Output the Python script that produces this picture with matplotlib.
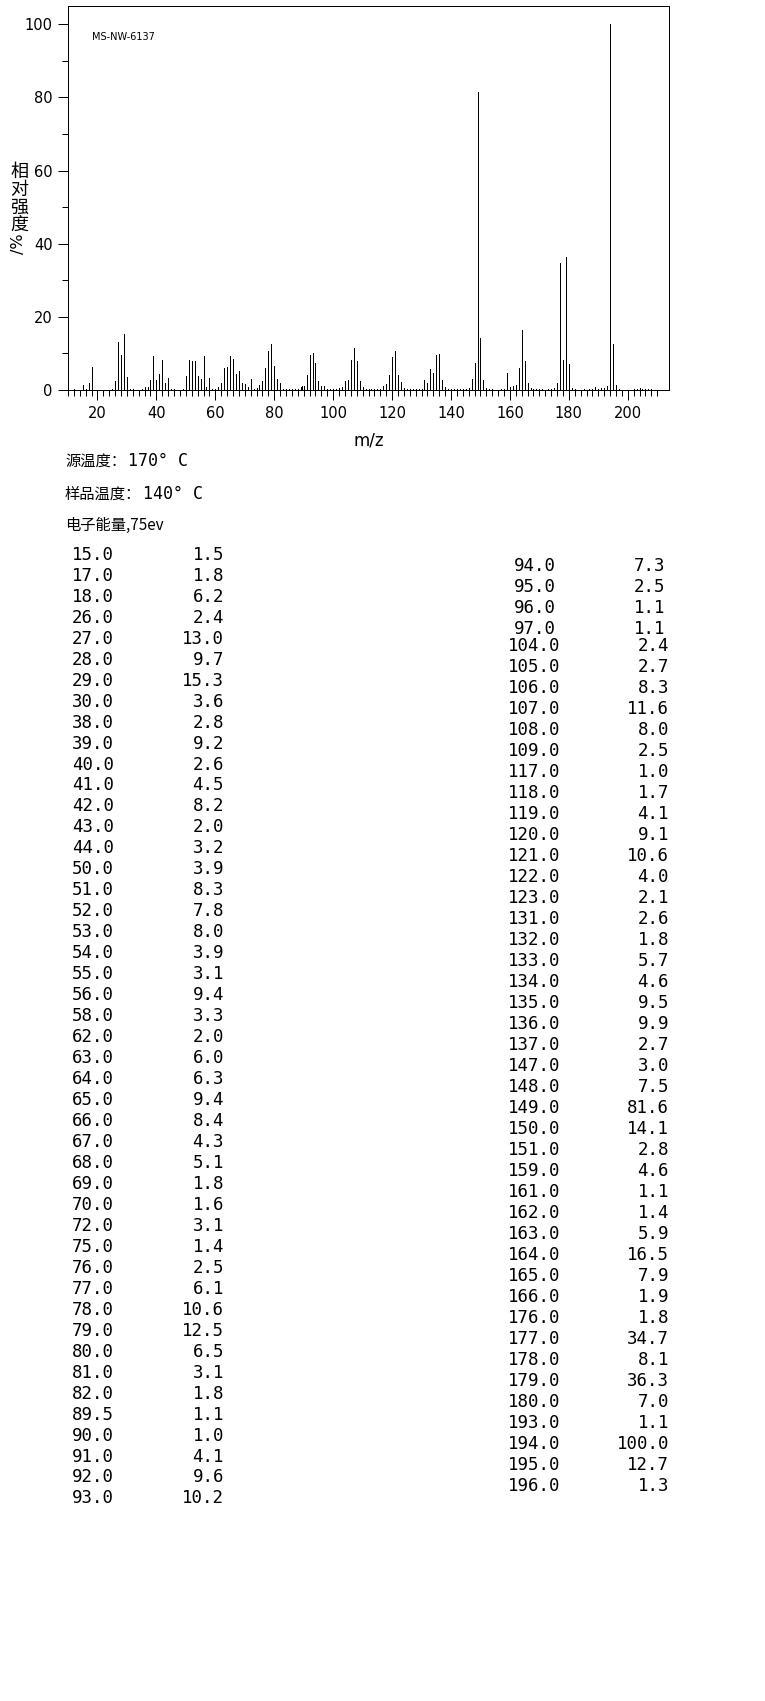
import matplotlib
matplotlib.use("Agg")
import matplotlib.pyplot as plt

W, H = 765, 1701

# peak table, left column
left_mz = [15.0, 17.0, 18.0, 26.0, 27.0, 28.0, 29.0, 30.0, 38.0, 39.0, 40.0, 41.0,
           42.0, 43.0, 44.0, 50.0, 51.0, 52.0, 53.0, 54.0, 55.0, 56.0, 58.0, 62.0,
           63.0, 64.0, 65.0, 66.0, 67.0, 68.0, 69.0, 70.0, 72.0, 75.0, 76.0, 77.0,
           78.0, 79.0, 80.0, 81.0, 82.0, 89.5, 90.0, 91.0, 92.0, 93.0]
left_int = [1.5, 1.8, 6.2, 2.4, 13.0, 9.7, 15.3, 3.6, 2.8, 9.2, 2.6, 4.5,
            8.2, 2.0, 3.2, 3.9, 8.3, 7.8, 8.0, 3.9, 3.1, 9.4, 3.3, 2.0,
            6.0, 6.3, 9.4, 8.4, 4.3, 5.1, 1.8, 1.6, 3.1, 1.4, 2.5, 6.1,
            10.6, 12.5, 6.5, 3.1, 1.8, 1.1, 1.0, 4.1, 9.6, 10.2]

# peak table, right column
right_mz = [94.0, 95.0, 96.0, 97.0, 104.0, 105.0, 106.0, 107.0, 108.0, 109.0,
            117.0, 118.0, 119.0, 120.0, 121.0, 122.0, 123.0, 131.0, 132.0, 133.0,
            134.0, 135.0, 136.0, 137.0, 147.0, 148.0, 149.0, 150.0, 151.0, 159.0,
            161.0, 162.0, 163.0, 164.0, 165.0, 166.0, 176.0, 177.0, 178.0, 179.0,
            180.0, 193.0, 194.0, 195.0, 196.0]
right_int = [7.3, 2.5, 1.1, 1.1, 2.4, 2.7, 8.3, 11.6, 8.0, 2.5,
             1.0, 1.7, 4.1, 9.1, 10.6, 4.0, 2.1, 2.6, 1.8, 5.7,
             4.6, 9.5, 9.9, 2.7, 3.0, 7.5, 81.6, 14.1, 2.8, 4.6,
             1.1, 1.4, 5.9, 16.5, 7.9, 1.9, 1.8, 34.7, 8.1, 36.3,
             7.0, 1.1, 100.0, 12.7, 1.3]

# small peaks drawn in the spectrum but not listed in the table
minor_mz = [12, 16, 25, 31, 32, 35, 36, 37, 45, 46, 49, 57, 59, 60, 61, 71, 73, 74,
            83, 84, 85, 86, 87, 88, 89, 98, 99, 100, 101, 102, 103, 110, 111, 112,
            113, 114, 115, 116, 124, 125, 126, 127, 128, 129, 130, 138, 139, 140,
            141, 142, 143, 144, 145, 146, 152, 153, 154, 157, 158, 160, 167, 168,
            169, 170, 171, 173, 174, 175, 181, 182, 185, 187, 188, 189, 190, 191,
            192, 197, 202, 203, 204, 205, 206, 207, 208]
minor_int = [0.4, 0.4, 0.4, 0.4, 0.4, 0.4, 0.8, 0.8, 0.4, 0.4, 0.4, 0.8, 0.4, 0.4, 0.7, 0.7, 0.3, 0.5,
             0.4, 0.3, 0.3, 0.3, 0.3, 0.3, 0.7, 0.4, 0.3, 0.3, 0.3, 0.5, 0.8, 0.7, 0.3, 0.3,
             0.3, 0.3, 0.3, 0.4, 0.6, 0.3, 0.3, 0.3, 0.3, 0.3, 0.3, 0.8, 0.3, 0.3,
             0.3, 0.3, 0.3, 0.3, 0.3, 0.6, 0.6, 0.3, 0.3, 0.3, 0.3, 0.8, 0.6, 0.3,
             0.3, 0.3, 0.3, 0.3, 0.3, 0.6, 0.5, 0.3, 0.3, 0.3, 0.4, 0.8, 0.3, 0.5,
             0.5, 0.3, 0.3, 0.3, 0.5, 0.3, 0.3, 0.3, 0.3]

sample_id = "MS-NW-6137"
info_cjk = ["源温度：", "样品温度："]
info_val = ["170° C", "140° C"]
info_line3 = "电子能量,75ev"

px = 0.72  # one pixel in points at dpi 100
CJK = ["Noto Sans CJK SC", "DejaVu Sans"]
MONO = ["DejaVu Sans Mono", "Noto Sans CJK SC"]


def fx(x):
    return x / W


def fy(y):
    return 1 - y / H


fig = plt.figure(figsize=(W / 100, H / 100), dpi=100)
ax = fig.add_axes([fx(68), fy(390), 601 / W, 384 / H])

spec_mz = left_mz + right_mz + minor_mz
spec_int = left_int + right_int + minor_int
ax.vlines(spec_mz, 0, spec_int, colors="black", linewidth=px, antialiased=False)

ax.set_xlim(10, 214)
ax.set_ylim(0, 105)
ax.set_xticks(range(20, 201, 20))
ax.set_xticks(range(10, 211, 2), minor=True)
ax.set_yticks(range(0, 101, 20))
ax.set_yticks(range(10, 100, 20), minor=True)
ax.tick_params(which="major", length=10 * px, width=px, labelsize=10.5, pad=4, direction="out")
ax.tick_params(which="minor", length=6 * px, width=px, direction="out")
for s in ax.spines.values():
    s.set_linewidth(px)
    s.set_antialiased(False)

fig.text(fx(92), fy(37), sample_id, fontsize=7, ha="left", va="center")

# axis titles
fig.text(fx(369), fy(440), "m/z", fontsize=12, ha="center", va="center")
for i, ch in enumerate("相对强度"):
    fig.text(fx(19), fy(172 + 17.7 * i), ch, fontsize=13, family=CJK, ha="center", va="center")
fig.text(fx(19), fy(172 + 17.7 * 4 + 1), "/%", fontsize=11.5, rotation=90, ha="center", va="center")

# run conditions
info_y = [460, 493]
val_x = [128, 143]
for txt, val, y, x in zip(info_cjk, info_val, info_y, val_x):
    fig.text(fx(65), fy(y + 6), txt, fontsize=11, family=CJK, ha="left", va="baseline")
    fig.text(fx(x), fy(y + 6), val, fontsize=12, family=MONO, ha="left", va="baseline")
fig.text(fx(65), fy(524 + 6), info_line3, fontsize=11, family=CJK, ha="left", va="baseline")

# peak list
for i, (m, v) in enumerate(zip(left_mz, left_int)):
    yb = 553.3 + 20.97 * i + 6.5
    fig.text(fx(114), fy(yb), f"{m:.1f}", fontsize=12.5, family=MONO, ha="right", va="baseline")
    fig.text(fx(224), fy(yb), f"{v:.1f}", fontsize=12.5, family=MONO, ha="right", va="baseline")

for i, (m, v) in enumerate(zip(right_mz, right_int)):
    if i < 4:
        yc, xm, xv = 564.3 + 21.0 * i, 556, 665
    else:
        yc, xm, xv = 644.3 + 21.0 * (i - 4), 560, 669
    fig.text(fx(xm), fy(yc + 6.5), f"{m:.1f}", fontsize=12.5, family=MONO, ha="right", va="baseline")
    fig.text(fx(xv), fy(yc + 6.5), f"{v:.1f}", fontsize=12.5, family=MONO, ha="right", va="baseline")

fig.savefig("out.png", dpi=100, facecolor="white")
